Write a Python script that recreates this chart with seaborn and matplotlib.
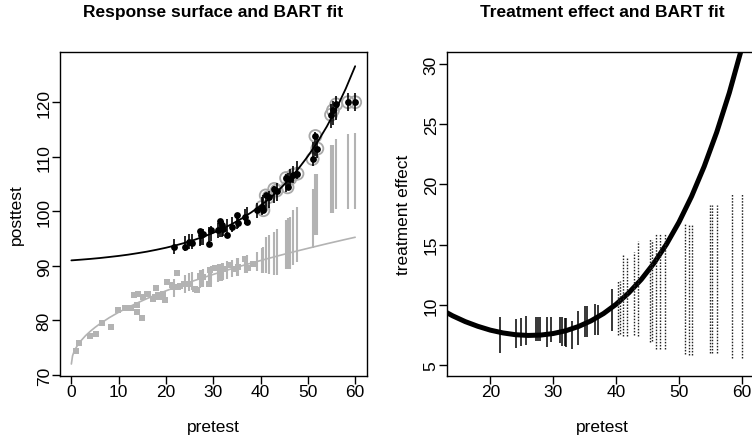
import numpy as np
import pandas as pd
import seaborn as sns
import matplotlib.pyplot as plt

# ---- data ----
# control units (observed posttest)
ctrl_x = [0.9, 1.6, 4.0, 5.2, 6.4, 8.3, 9.8, 11.3, 12.6, 13.3, 13.9, 13.9, 14.1, 15.0,
          15.2, 15.9, 16.2, 17.3, 17.7, 17.9, 18.4, 18.7, 19.4, 19.8, 20.3, 21.2, 21.5,
          22.4, 22.6, 23.0, 23.9, 24.8, 26.1, 26.5, 27.3, 27.9, 29.0, 29.4, 30.4, 31.4,
          32.3, 33.5, 34.3, 35.3, 36.7, 37.4, 38.5]
ctrl_y = [74.4, 75.8, 77.1, 77.5, 79.5, 78.7, 81.9, 82.3, 82.2, 84.6, 82.9, 81.6, 84.8, 80.5,
          84.2, 84.8, 84.8, 84.0, 84.2, 85.9, 84.6, 84.3, 84.9, 83.8, 87.1, 86.4, 86.2,
          88.6, 86.2, 86.3, 86.6, 86.6, 85.7, 85.5, 88.2, 88.0, 86.6, 89.3, 89.6, 88.3,
          89.5, 90.1, 89.5, 89.8, 91.2, 89.6, 90.4]

# treated units
trt_x = [21.6, 24.0, 24.9, 25.6, 27.2, 27.5, 27.9, 29.0, 29.6, 31.1, 31.4, 31.8, 32.1,
         33.0, 33.9, 35.1, 35.3, 36.7, 37.1, 39.3, 40.3, 40.6, 41.1, 41.7, 42.9, 43.4,
         45.4, 45.7, 46.3, 46.9, 47.8, 51.0, 51.6, 52.0, 54.9, 55.3, 56.0, 58.5, 60.0]
trt_y = [93.4, 93.4, 94.3, 94.2, 96.3, 95.6, 95.9, 94.0, 96.6, 96.5, 98.2, 97.4, 96.8,
         95.6, 97.1, 99.3, 97.9, 99.0, 98.0, 100.3, 100.8, 100.2, 102.9, 102.6, 104.1, 103.8,
         106.1, 104.4, 106.0, 106.7, 106.9, 109.6, 113.8, 111.5, 117.7, 118.5, 119.6, 120.0, 120.0]
no_overlap = [False] * 20 + [True] * 19

# BART intervals for Y(1) at treated units
y1_lo = [92.1, 92.7, 93.0, 93.1, 93.7, 93.8, 93.9, 94.3, 94.5, 95.1, 95.2, 95.3, 95.5,
         95.8, 96.2, 96.8, 96.9, 97.6, 97.9, 98.8, 99.4, 99.7, 100.2, 100.6, 101.5, 101.9,
         103.6, 103.9, 104.5, 105.1, 106.0, 108.3, 110.1, 109.8, 115.3, 115.8, 116.8, 118.4, 118.4]
y1_hi = [94.9, 95.5, 95.8, 95.9, 96.5, 96.6, 96.7, 97.1, 97.3, 97.9, 98.0, 98.1, 98.3,
         98.6, 99.0, 99.6, 99.7, 100.4, 100.7, 101.6, 102.6, 102.9, 103.4, 103.8, 104.7, 105.1,
         106.8, 107.1, 107.7, 108.3, 109.2, 112.7, 114.5, 114.2, 119.7, 120.2, 121.2, 121.6, 121.6]

# BART intervals for Y(0) at treated units
y0_lo = [84.3, 85.1, 85.4, 85.6, 86.0, 86.1, 86.2, 86.6, 86.7, 87.1, 87.2, 87.3, 87.4,
         87.6, 87.9, 88.2, 88.2, 88.6, 88.7, 89.0, 88.6, 88.6, 88.6, 88.5, 88.3, 88.3,
         89.5, 89.5, 89.5, 90.1, 90.7, 93.2, 95.6, 95.6, 99.6, 99.6, 100.5, 100.5, 100.4]
y0_hi = [87.5, 88.3, 88.6, 88.8, 89.2, 89.3, 89.4, 89.8, 89.9, 90.3, 90.4, 90.5, 90.6,
         90.8, 91.1, 91.4, 91.4, 91.8, 91.9, 92.6, 93.2, 93.5, 95.3, 95.6, 96.2, 96.8,
         98.4, 98.7, 99.0, 100.2, 100.8, 104.1, 106.9, 106.9, 112.2, 112.2, 113.3, 114.2, 114.3]

# BART intervals for the treatment effect
te_lo = [6.0, 6.4, 6.6, 6.7, 7.0, 7.0, 7.0, 6.5, 6.9, 6.8, 6.6, 6.6, 6.5,
         6.3, 6.7, 7.3, 7.3, 7.5, 7.5, 7.8, 7.5, 7.6, 7.4, 7.4, 7.5, 7.4,
         6.9, 7.0, 6.3, 6.3, 6.3, 5.9, 5.8, 5.8, 6.0, 6.0, 6.0, 5.6, 5.6]
te_hi = [9.0, 8.8, 8.9, 9.1, 9.0, 9.0, 9.0, 9.0, 9.0, 9.0, 9.0, 8.9, 8.9,
         8.7, 9.5, 9.9, 9.9, 10.1, 10.0, 11.3, 12.1, 12.0, 14.1, 14.0, 14.4, 15.3,
         15.5, 15.4, 16.0, 16.0, 16.0, 16.7, 16.7, 16.7, 18.3, 18.3, 18.3, 19.3, 19.3]

# true response surfaces
grid_x = [0, 2, 4, 6, 8, 10, 12, 14, 16, 18, 20, 22, 24, 26, 28, 30,
          32, 34, 36, 38, 40, 42, 44, 46, 48, 50, 52, 54, 56, 58, 60]
surf1 = [91.00, 91.13, 91.27, 91.43, 91.62, 91.82, 92.05, 92.32, 92.61, 92.95, 93.32,
         93.74, 94.22, 94.76, 95.37, 96.05, 96.82, 97.69, 98.67, 99.78, 101.02, 102.43,
         104.01, 105.80, 107.81, 110.09, 112.65, 115.53, 118.79, 122.46, 126.60]
grid0_x = [0, 0.25, 0.5, 1, 1.5, 2, 3, 4, 5, 6, 8, 10, 12, 14, 16, 18, 20, 22, 24, 26,
           28, 30, 32, 34, 36, 38, 40, 42, 44, 46, 48, 50, 52, 54, 56, 58, 60]
surf0 = [72.00, 73.50, 74.12, 75.00, 75.67, 76.24, 77.20, 78.00, 78.71, 79.35, 80.49,
         81.49, 82.39, 83.22, 84.00, 84.73, 85.42, 86.07, 86.70, 87.30, 87.87, 88.43,
         88.97, 89.49, 90.00, 90.49, 90.97, 91.44, 91.90, 92.35, 92.78, 93.21, 93.63,
         94.05, 94.45, 94.85, 95.24]
grid_te = [12, 14, 16, 18, 20, 22, 24, 26, 28, 30, 32, 34, 36, 38, 40, 42, 44, 46,
           48, 50, 52, 54, 56, 58, 60]
effect = [9.66, 9.09, 8.61, 8.22, 7.90, 7.67, 7.52, 7.46, 7.49, 7.62, 7.85, 8.20, 8.67,
          9.28, 10.05, 10.99, 12.11, 13.45, 15.03, 16.87, 19.01, 21.49, 24.34, 27.61, 31.36]

trt = pd.DataFrame({"x": trt_x, "y": trt_y, "no_overlap": no_overlap,
                    "y1_lo": y1_lo, "y1_hi": y1_hi, "y0_lo": y0_lo, "y0_hi": y0_hi,
                    "te_lo": te_lo, "te_hi": te_hi})

sns.set_style("ticks")
plt.rcParams["font.family"] = ["Liberation Sans", "DejaVu Sans"]
plt.rcParams["text.color"] = "black"
plt.rcParams["axes.labelcolor"] = "black"

GRAY = "#b3b3b3"
FS = 12.5
fig = plt.figure(figsize=(7.52, 4.39), dpi=100)
ax1 = fig.add_axes([0.0798, 0.1412, 0.4082, 0.738])
ax2 = fig.add_axes([0.5944, 0.1412, 0.4122, 0.738])

# left panel: response surface
sns.scatterplot(x=ctrl_x, y=ctrl_y, ax=ax1, marker="s", s=13, color=GRAY, linewidth=0)
ax1.vlines(trt["x"], trt["y0_lo"], trt["y0_hi"], color=GRAY, lw=1.5)
sns.lineplot(x=grid0_x, y=surf0, ax=ax1, color=GRAY, lw=1.2)
flag = trt[trt["no_overlap"]]
sns.scatterplot(x=flag["x"], y=flag["y"], ax=ax1, s=75, facecolor="none",
                edgecolor="#a8a8a8", linewidth=1.3)
ax1.vlines(trt["x"], trt["y1_lo"], trt["y1_hi"], color="black", lw=1.2)
sns.scatterplot(x=trt["x"], y=trt["y"], ax=ax1, s=24, color="black", linewidth=0)
sns.lineplot(x=grid_x, y=surf1, ax=ax1, color="black", lw=1.3)

ax1.set_xlim(-2.4, 62.5)
ax1.set_ylim(69.8, 129.2)
ax1.set_xticks([0, 10, 20, 30, 40, 50, 60])
ax1.set_yticks([70, 80, 90, 100, 110, 120])
ax1.set_xlabel("pretest", labelpad=14)
ax1.set_ylabel("posttest", labelpad=9)
ax1.set_title("Response surface and BART fit", fontweight="bold", fontsize=12.5, pad=26)

# right panel: treatment effect
sns.lineplot(x=grid_te, y=effect, ax=ax2, color="black", lw=3.6)
solid = trt[~trt["no_overlap"]]
ax2.vlines(solid["x"], solid["te_lo"], solid["te_hi"], color="black", lw=1.1)
ax2.vlines(flag["x"], flag["te_lo"], flag["te_hi"], color="#222222", lw=1.0,
           linestyles=[(0, (1.1, 1.1))])
ax2.set_xlim(13.1, 62.4)
ax2.set_ylim(4.09, 31.0)
ax2.set_xticks([20, 30, 40, 50, 60])
ax2.set_yticks([5, 10, 15, 20, 25, 30])
ax2.set_xlabel("pretest", labelpad=14)
ax2.set_ylabel("treatment effect", labelpad=9)
ax2.set_title("Treatment effect and BART fit", fontweight="bold", fontsize=12.5, pad=26)

for ax in (ax1, ax2):
    for sp in ax.spines.values():
        sp.set_color("black")
        sp.set_linewidth(1.0)
    ax.tick_params(axis="both", direction="out", length=6, width=1.0, pad=0,
                   labelsize=FS, colors="black")
    for lab in ax.get_yticklabels():
        lab.set_rotation(90)
        lab.set_va("center")
    ax.xaxis.label.set_fontsize(FS)
    ax.yaxis.label.set_fontsize(FS)

fig.savefig("out.png", dpi=100)
